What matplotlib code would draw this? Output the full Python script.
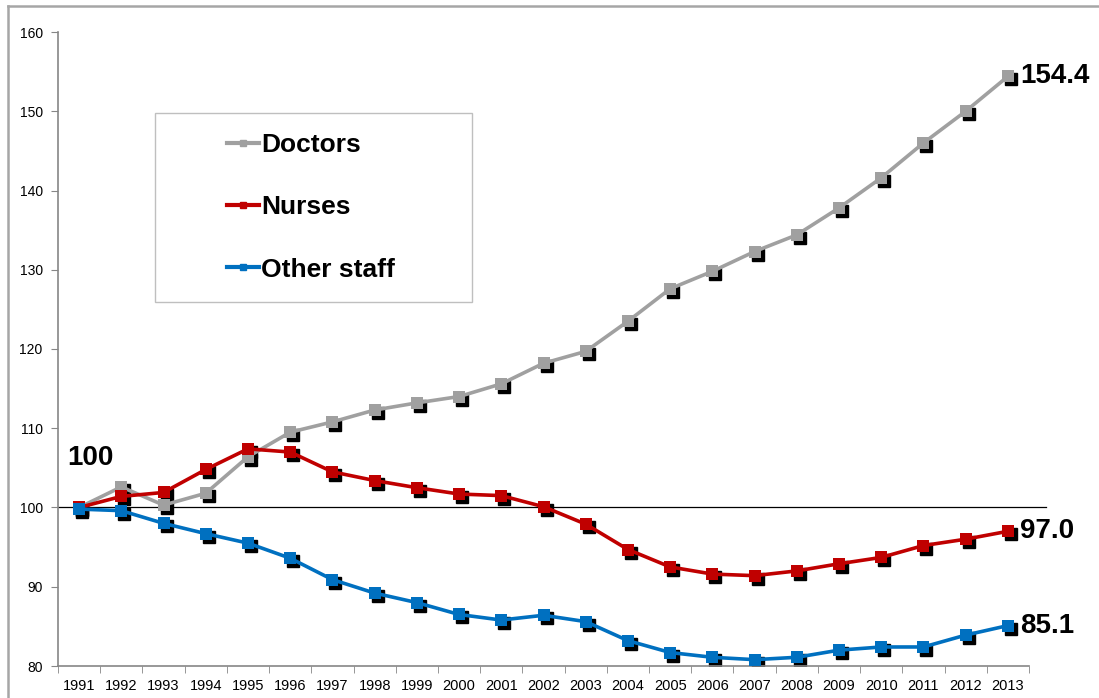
import matplotlib.pyplot as plt
import matplotlib.transforms as mtransforms
from matplotlib.lines import Line2D
from matplotlib.patches import Rectangle

plt.rcParams['font.family'] = ['Liberation Sans', 'DejaVu Sans']

years = [str(y) for y in range(1991, 2014)]

doctors = [100, 102.6, 100.3, 101.8, 106.4, 109.5, 110.8, 112.3, 113.2, 114.0, 115.6, 118.2,
           119.7, 123.5, 127.6, 129.8, 132.3, 134.4, 137.8, 141.6, 146.0, 150.0, 154.4]
nurses = [100, 101.4, 101.9, 104.8, 107.4, 107.0, 104.5, 103.4, 102.5, 101.7, 101.5, 100.1,
          97.9, 94.7, 92.5, 91.6, 91.4, 92.0, 92.9, 93.7, 95.2, 96.0, 97.0]
other_staff = [99.8, 99.6, 98.0, 96.7, 95.5, 93.6, 90.9, 89.2, 88.0, 86.5, 85.8, 86.4,
               85.6, 83.2, 81.7, 81.1, 80.8, 81.1, 82.0, 82.4, 82.4, 83.9, 85.1]

series = [("Doctors", doctors, "#a0a0a0"),
          ("Nurses", nurses, "#c00000"),
          ("Other staff", other_staff, "#0070c0")]

fig = plt.figure(figsize=(10.99, 6.98), dpi=100)
ax = fig.add_axes([58 / 1099, 32 / 698, 971 / 1099, 634 / 698])

x = list(range(len(years)))
shadow = mtransforms.offset_copy(ax.transData, fig=fig, x=3, y=-3, units='dots')

for name, vals, col in series:
    # black drop shadow under the markers, like the Excel original
    ax.plot(x, vals, linestyle='none', marker='s', markersize=8.5, color='black',
            transform=shadow, zorder=2)
    ax.plot(x, vals, color=col, linewidth=2.6, marker='s', markersize=8.5,
            markeredgewidth=0, label=name, zorder=3)

ax.axhline(100, xmin=0, xmax=1.018, color='black', linewidth=0.9, clip_on=False, zorder=1)

# end labels
for name, vals, col in series:
    ax.annotate(f"{vals[-1]:.1f}", xy=(x[-1], vals[-1]), xytext=(9, 0),
                textcoords='offset points', va='center', ha='left',
                fontsize=20, fontweight='bold', annotation_clip=False)
ax.text(-0.28, 106.3, "100", fontsize=20, fontweight='bold', va='center', ha='left')

ax.set_xlim(-0.5, len(years) - 0.5)
ax.set_ylim(80, 160)
ax.set_yticks(range(80, 161, 10))
ax.set_xticks(x)
ax.set_xticklabels(years)
ax.set_xticks([i - 0.5 for i in range(len(years) + 1)], minor=True)
ax.tick_params(axis='x', which='major', length=0, pad=9, labelsize=10.5)
ax.tick_params(axis='x', which='minor', length=5, color='#868686')
ax.tick_params(axis='y', length=5, color='#868686', pad=6, labelsize=10)

for s in ['top', 'right']:
    ax.spines[s].set_visible(False)
for s in ['left', 'bottom']:
    ax.spines[s].set_color('#868686')
    ax.spines[s].set_linewidth(1.2)

# legend box
ax.add_patch(Rectangle((97 / 971, (666 - 302) / 634), 317 / 971, 189 / 634,
                       transform=ax.transAxes, facecolor='white', edgecolor='#bfbfbf',
                       linewidth=1, zorder=4))
leg_handles = [Line2D([], [], color=c, linewidth=3, marker='s', markersize=5)
               for _, _, c in series]
leg = ax.legend(leg_handles, [n for n, _, _ in series], loc='upper left',
                bbox_to_anchor=(169 / 971, (666 - 133) / 634), frameon=False,
                prop={'size': 19, 'weight': 'bold'}, handlelength=1.2,
                handletextpad=0.08, labelspacing=1.45, borderpad=0, borderaxespad=0)
leg.set_zorder(5)

# outer chart border (top and left edges visible)
fig.add_artist(Line2D([8 / 1099, 1.0], [1 - 6 / 698, 1 - 6 / 698], color='#a6a6a6',
                      linewidth=1.8, transform=fig.transFigure))
fig.add_artist(Line2D([8 / 1099, 8 / 1099], [0, 1 - 6 / 698], color='#a6a6a6',
                      linewidth=1.8, transform=fig.transFigure))

fig.savefig("out.png", dpi=100)
